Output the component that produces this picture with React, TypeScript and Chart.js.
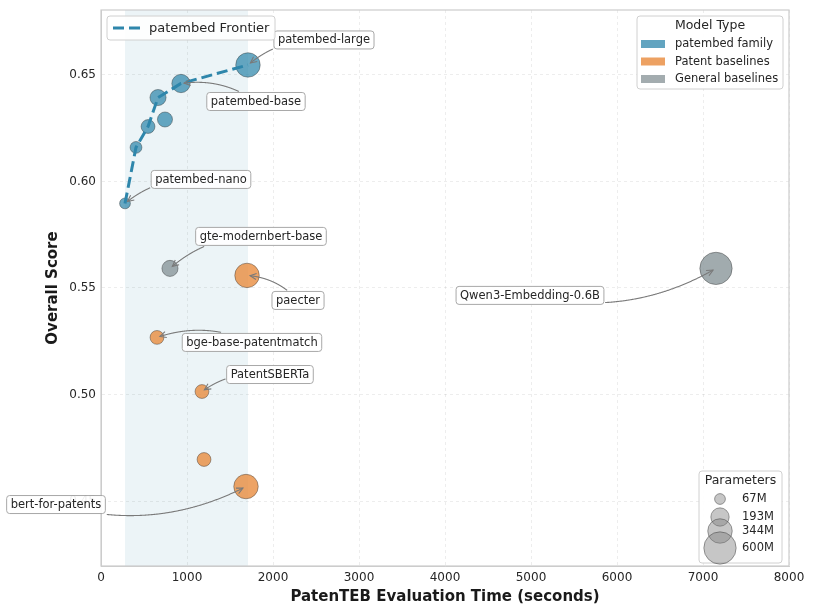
import React, { useEffect, useRef } from "react";
import { Chart, registerables } from "chart.js";

Chart.register(...registerables);

// ---------- data ----------
const modelNames = [
  "patembed-nano",
  "patembed-mini",
  "patembed-small",
  "patembed-medium",
  "patembed-base-alt",
  "patembed-base",
  "patembed-large",
  "gte-modernbert-base",
  "paecter",
  "bge-base-patentmatch",
  "PatentSBERTa",
  "patent-baseline-x",
  "bert-for-patents",
  "Qwen3-Embedding-0.6B",
];
const evalTimes = [279, 407, 547, 663, 744, 930, 1709, 802, 1698, 651, 1174, 1198, 1686, 7151];
const overallScores = [0.5897, 0.616, 0.6258, 0.6394, 0.6291, 0.646, 0.6547, 0.5592, 0.5559, 0.5268, 0.5014, 0.4695, 0.4568, 0.5592];
const paramsM = [67, 80, 110, 149, 130, 193, 344, 149, 344, 110, 110, 110, 344, 600];
const modelTypes = [
  "patembed", "patembed", "patembed", "patembed", "patembed", "patembed", "patembed",
  "general", "patent", "patent", "patent", "patent", "patent", "general",
];
const frontierModels = ["patembed-nano", "patembed-mini", "patembed-small", "patembed-medium", "patembed-base", "patembed-large"];
const labeledModels = [
  "patembed-large", "patembed-base", "patembed-nano", "gte-modernbert-base", "paecter",
  "bge-base-patentmatch", "PatentSBERTa", "Qwen3-Embedding-0.6B", "bert-for-patents",
];
const typeKeys = ["patembed", "patent", "general"];
const typeLabels = ["patembed family", "Patent baselines", "General baselines"];
const sizeLegendParams = [67, 193, 344, 600];
const sizeLegendLabels = ["67M", "193M", "344M", "600M"];
const xTicks = [0, 1000, 2000, 3000, 4000, 5000, 6000, 7000, 8000];
const yTicks = [0.45, 0.5, 0.55, 0.6, 0.65];

// ---------- style ----------
const FONT = '"DejaVu Sans", "Liberation Sans", sans-serif';
const typeColors: Record<string, string> = {
  patembed: "rgba(46,134,171,0.72)",
  patent: "rgba(232,140,62,0.8)",
  general: "rgba(138,150,154,0.8)",
};
const legendPatch: Record<string, string> = {
  patembed: "#62a4c0",
  patent: "#eda162",
  general: "#a3acaf",
};
const frontierColor = "#2e86ab";
// label offsets (pixels, label centre relative to point)
const labelOffsets: Record<string, [number, number]> = {
  "patembed-large": [76, -25],
  "patembed-base": [75, 18],
  "patembed-nano": [76, -24],
  "gte-modernbert-base": [91, -32],
  paecter: [51, 25],
  "bge-base-patentmatch": [95, 5],
  PatentSBERTa: [68, -17],
  "Qwen3-Embedding-0.6B": [-186, 27],
  "bert-for-patents": [-190, 18],
};
const radiusOf = (p: number) => 0.66 * Math.sqrt(p);

function roundRect(ctx: CanvasRenderingContext2D, x: number, y: number, w: number, h: number, r: number) {
  ctx.beginPath();
  ctx.moveTo(x + r, y);
  ctx.lineTo(x + w - r, y);
  ctx.quadraticCurveTo(x + w, y, x + w, y + r);
  ctx.lineTo(x + w, y + h - r);
  ctx.quadraticCurveTo(x + w, y + h, x + w - r, y + h);
  ctx.lineTo(x + r, y + h);
  ctx.quadraticCurveTo(x, y + h, x, y + h - r);
  ctx.lineTo(x, y + r);
  ctx.quadraticCurveTo(x, y, x + r, y);
  ctx.closePath();
}

function drawAnnotation(ctx: CanvasRenderingContext2D, text: string, px: number, py: number, cx: number, cy: number) {
  ctx.save();
  ctx.font = `11.5px ${FONT}`;
  const tw = ctx.measureText(text).width;
  const w = tw + 8;
  const h = 18;
  const bx = cx - w / 2;
  const by = cy - h / 2;
  // arc3 rad=0.2 curve from label centre to point
  const f = 0.2;
  const dx = px - cx;
  const dy = py - cy;
  const qx = (cx + px) / 2 - f * dy;
  const qy = (cy + py) / 2 + f * dx;
  const N = 300;
  const pts: [number, number][] = [];
  for (let i = 0; i <= N; i++) {
    const t = i / N;
    const x = (1 - t) * (1 - t) * cx + 2 * (1 - t) * t * qx + t * t * px;
    const y = (1 - t) * (1 - t) * cy + 2 * (1 - t) * t * qy + t * t * py;
    pts.push([x, y]);
  }
  let s = 0;
  while (s < N && Math.abs(pts[s][0] - cx) <= w / 2 + 1 && Math.abs(pts[s][1] - cy) <= h / 2 + 1) s++;
  let e = N;
  while (e > s && Math.hypot(pts[e][0] - px, pts[e][1] - py) < 3) e--;
  ctx.strokeStyle = "#7a7a7a";
  ctx.lineWidth = 1.1;
  ctx.beginPath();
  ctx.moveTo(pts[s][0], pts[s][1]);
  for (let i = s + 1; i <= e; i++) ctx.lineTo(pts[i][0], pts[i][1]);
  ctx.stroke();
  // arrow head
  const k = Math.max(s, e - 8);
  const ang = Math.atan2(pts[e][1] - pts[k][1], pts[e][0] - pts[k][0]);
  const hl = 7;
  const ha = 0.45;
  ctx.beginPath();
  ctx.moveTo(pts[e][0] - hl * Math.cos(ang - ha), pts[e][1] - hl * Math.sin(ang - ha));
  ctx.lineTo(pts[e][0], pts[e][1]);
  ctx.lineTo(pts[e][0] - hl * Math.cos(ang + ha), pts[e][1] - hl * Math.sin(ang + ha));
  ctx.stroke();
  // box
  roundRect(ctx, bx, by, w, h, 3);
  ctx.fillStyle = "rgba(255,255,255,0.92)";
  ctx.fill();
  ctx.strokeStyle = "#a8a8a8";
  ctx.lineWidth = 1;
  ctx.stroke();
  ctx.fillStyle = "#262626";
  ctx.textAlign = "center";
  ctx.textBaseline = "middle";
  ctx.fillText(text, cx, cy + 0.5);
  ctx.restore();
}

const overlayPlugin = {
  id: "overlay",
  beforeDraw(chart: any) {
    const { ctx, chartArea, scales } = chart;
    const ft = frontierModels.map((n) => evalTimes[modelNames.indexOf(n)]);
    const x0 = scales.x.getPixelForValue(Math.min(...ft));
    const x1 = scales.x.getPixelForValue(Math.max(...ft));
    ctx.save();
    ctx.fillStyle = "rgba(46,134,171,0.09)";
    ctx.fillRect(x0, chartArea.top, x1 - x0, chartArea.bottom - chartArea.top);
    ctx.restore();
  },
  afterDraw(chart: any) {
    const { ctx, chartArea, scales } = chart;
    const { left, right, top, bottom } = chartArea;
    ctx.save();
    // spines
    ctx.strokeStyle = "#cccccc";
    ctx.lineWidth = 1.2;
    ctx.strokeRect(left, top, right - left, bottom - top);

    // annotations
    labeledModels.forEach((name) => {
      const i = modelNames.indexOf(name);
      const px = scales.x.getPixelForValue(evalTimes[i]);
      const py = scales.y.getPixelForValue(overallScores[i]);
      const [ox, oy] = labelOffsets[name];
      drawAnnotation(ctx, name, px, py, px + ox, py + oy);
    });

    // frontier legend (upper left)
    roundRect(ctx, left + 6, top + 6, 168, 24, 3);
    ctx.fillStyle = "rgba(255,255,255,0.9)";
    ctx.fill();
    ctx.strokeStyle = "#d0d0d0";
    ctx.lineWidth = 1;
    ctx.stroke();
    ctx.strokeStyle = frontierColor;
    ctx.lineWidth = 3;
    ctx.setLineDash([11, 5]);
    ctx.beginPath();
    ctx.moveTo(left + 12, top + 18);
    ctx.lineTo(left + 39, top + 18);
    ctx.stroke();
    ctx.setLineDash([]);
    ctx.fillStyle = "#262626";
    ctx.font = `13px ${FONT}`;
    ctx.textAlign = "left";
    ctx.textBaseline = "middle";
    ctx.fillText("patembed Frontier", left + 48, top + 18.5);

    // model type legend (upper right)
    const mx = right - 152;
    roundRect(ctx, mx, top + 6, 146, 73, 3);
    ctx.fillStyle = "rgba(255,255,255,0.9)";
    ctx.fill();
    ctx.strokeStyle = "#d0d0d0";
    ctx.lineWidth = 1;
    ctx.stroke();
    ctx.fillStyle = "#262626";
    ctx.font = `12.5px ${FONT}`;
    ctx.textAlign = "center";
    ctx.fillText("Model Type", mx + 73, top + 16);
    ctx.font = `11.5px ${FONT}`;
    ctx.textAlign = "left";
    typeKeys.forEach((k, j) => {
      const yy = top + 34 + j * 17.5;
      ctx.fillStyle = legendPatch[k];
      ctx.fillRect(mx + 4, yy - 4, 24, 8);
      ctx.fillStyle = "#262626";
      ctx.fillText(typeLabels[j], mx + 38, yy + 0.5);
    });

    // size legend (lower right)
    const sx = right - 90;
    const sy = bottom - 95;
    roundRect(ctx, sx, sy, 83, 92, 3);
    ctx.fillStyle = "rgba(255,255,255,0.9)";
    ctx.fill();
    ctx.strokeStyle = "#d0d0d0";
    ctx.lineWidth = 1;
    ctx.stroke();
    ctx.fillStyle = "#262626";
    ctx.font = `12.5px ${FONT}`;
    ctx.textAlign = "center";
    ctx.fillText("Parameters", sx + 41.5, sy + 10);
    const rowY = [28, 46, 60, 77];
    sizeLegendParams.forEach((p, j) => {
      const r = radiusOf(p);
      ctx.beginPath();
      ctx.arc(sx + 21, sy + rowY[j], r, 0, Math.PI * 2);
      ctx.fillStyle = "rgba(128,128,128,0.45)";
      ctx.fill();
      ctx.strokeStyle = "rgba(60,60,60,0.6)";
      ctx.lineWidth = 0.8;
      ctx.stroke();
    });
    ctx.font = `11.5px ${FONT}`;
    ctx.textAlign = "left";
    ctx.fillStyle = "#262626";
    sizeLegendParams.forEach((_, j) => {
      ctx.fillText(sizeLegendLabels[j], sx + 43, sy + rowY[j] + 0.5);
    });
    ctx.restore();
  },
};

export default function App() {
  const ref = useRef<HTMLCanvasElement | null>(null);
  useEffect(() => {
    if (!ref.current) return;
    const scatterSets = typeKeys.map((k) => {
      const idx = modelNames.map((_, i) => i).filter((i) => modelTypes[i] === k);
      return {
        type: "scatter" as const,
        label: typeLabels[typeKeys.indexOf(k)],
        data: idx.map((i) => ({ x: evalTimes[i], y: overallScores[i] })),
        pointRadius: idx.map((i) => radiusOf(paramsM[i])),
        pointHoverRadius: idx.map((i) => radiusOf(paramsM[i])),
        backgroundColor: typeColors[k],
        borderColor: "rgba(40,40,40,0.5)",
        borderWidth: 0.8,
        order: 2,
      };
    });
    const frontierSet = {
      type: "line" as const,
      label: "patembed Frontier",
      data: frontierModels.map((n) => {
        const i = modelNames.indexOf(n);
        return { x: evalTimes[i], y: overallScores[i] };
      }),
      borderColor: frontierColor,
      borderWidth: 3,
      borderDash: [11, 5],
      pointRadius: 0,
      fill: false,
      tension: 0,
      order: 1,
    };
    const tickFont = { family: FONT, size: 12 };
    const chart = new Chart(ref.current, {
      type: "scatter",
      data: { datasets: [frontierSet as any, ...scatterSets] },
      options: {
        animation: false,
        responsive: false,
        layout: { autoPadding: false, padding: { left: 0, right: 27, top: 10, bottom: 0 } },
        plugins: { legend: { display: false }, tooltip: { enabled: false } },
        scales: {
          x: {
            type: "linear",
            min: 0,
            max: 8000,
            afterBuildTicks: (s: any) => {
              s.ticks = xTicks.map((v) => ({ value: v }));
            },
            afterFit: (s: any) => {
              s.height = 50;
              s.paddingLeft = 0;
              s.paddingRight = 0;
            },
            ticks: { font: tickFont, color: "#262626", padding: 5, maxRotation: 0, callback: (v: any) => String(v) },
            grid: { color: "rgba(0,0,0,0.09)", drawTicks: false, lineWidth: 0.8 },
            border: { display: true, color: "#cccccc", dash: [3, 3] },
            title: {
              display: true,
              text: "PatenTEB Evaluation Time (seconds)",
              font: { family: FONT, size: 15, weight: "bold" },
              color: "#1a1a1a",
              padding: { top: 0, bottom: 10 },
            },
          },
          y: {
            type: "linear",
            min: 0.4195,
            max: 0.6805,
            afterBuildTicks: (s: any) => {
              s.ticks = yTicks.map((v) => ({ value: v }));
            },
            afterFit: (s: any) => {
              s.width = 101;
              s.paddingTop = 0;
              s.paddingBottom = 0;
            },
            ticks: { font: tickFont, color: "#262626", padding: 5, callback: (v: any) => Number(v).toFixed(2) },
            grid: { color: "rgba(0,0,0,0.09)", drawTicks: false, lineWidth: 0.8 },
            border: { display: true, color: "#cccccc", dash: [3, 3] },
            title: {
              display: true,
              text: "Overall Score",
              font: { family: FONT, size: 15, weight: "bold" },
              color: "#1a1a1a",
              padding: { top: 44, bottom: 0 },
            },
          },
        },
      },
      plugins: [overlayPlugin],
    });
    return () => chart.destroy();
  }, []);
  return (
    <div style={{ position: "absolute", left: 0, top: 0, width: 816, height: 616, background: "#fff" }}>
      <canvas ref={ref} width={816} height={616} style={{ display: "block" }} />
    </div>
  );
}
